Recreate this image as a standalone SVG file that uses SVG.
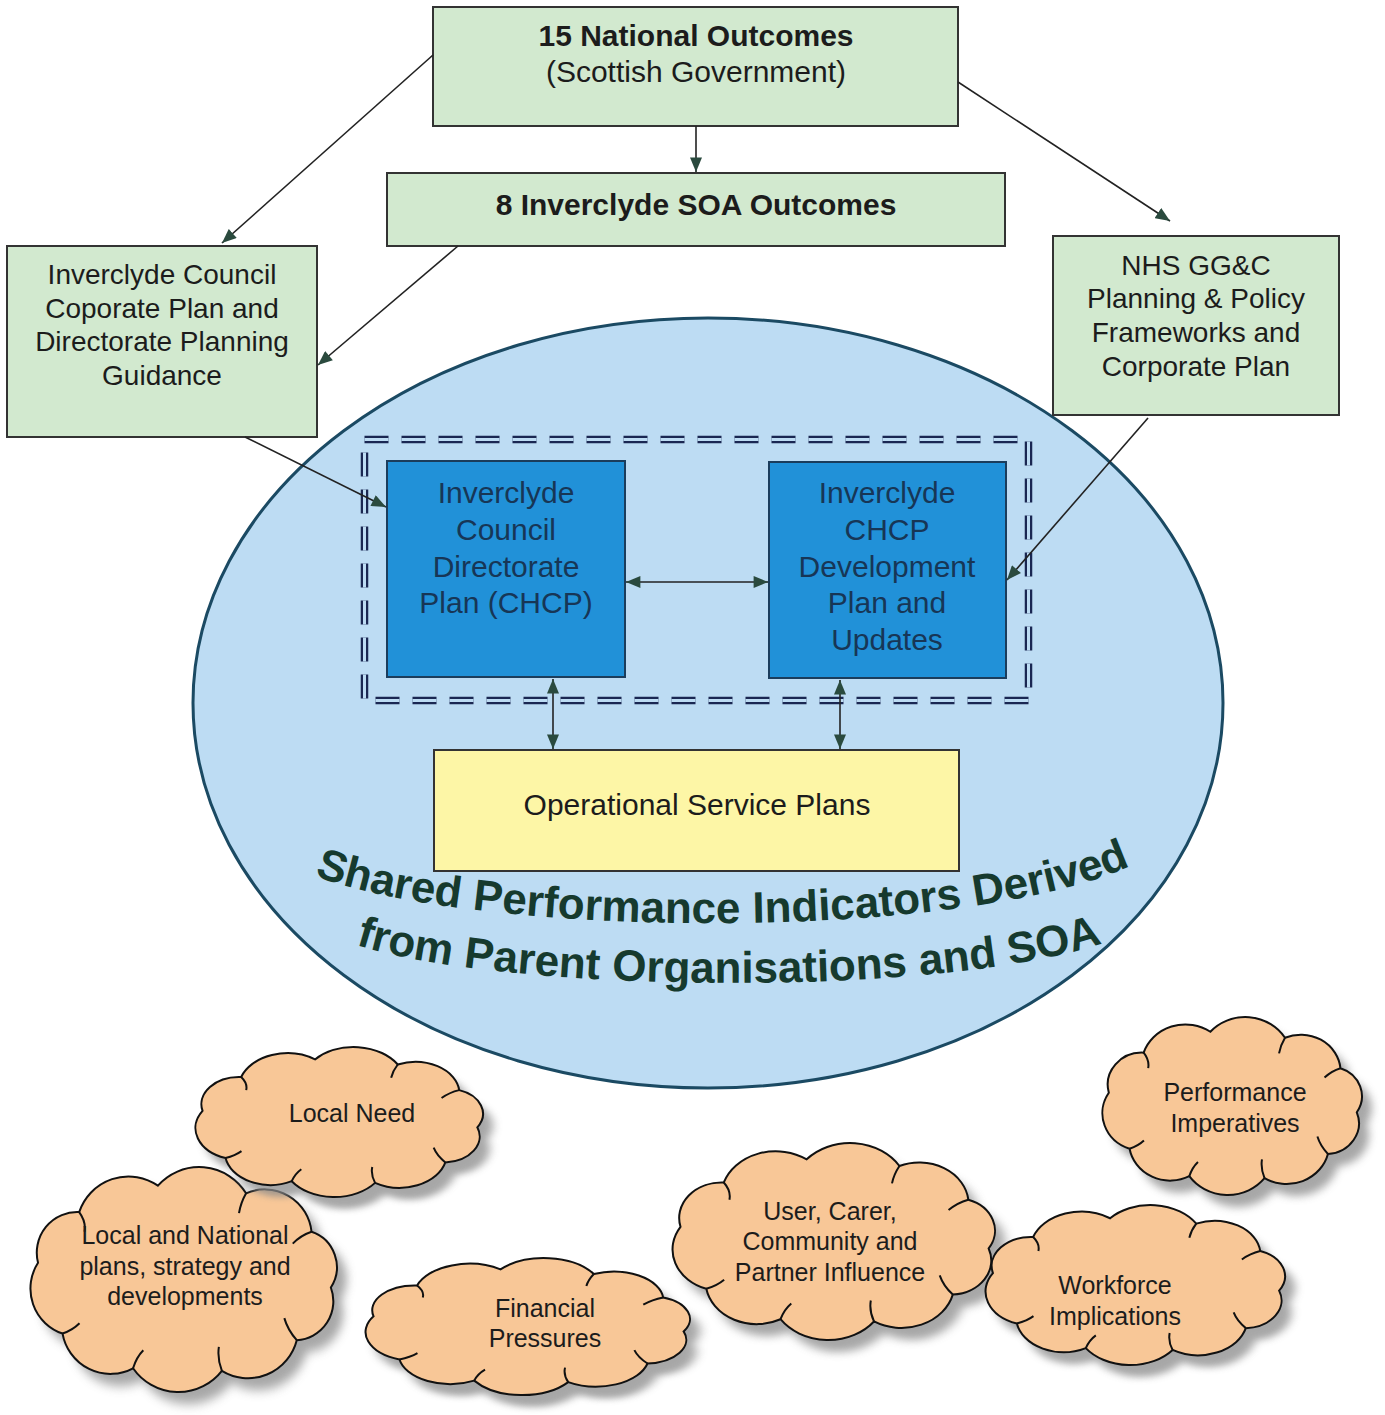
<svg xmlns="http://www.w3.org/2000/svg" width="1385" height="1415" viewBox="0 0 1385 1415">
  <defs>
    <style>
      .t{font-family:"Liberation Sans",Arial,sans-serif;fill:#1c1c1c;text-anchor:middle}
      .b{font-weight:bold}
      .green{fill:#d2e9cf;stroke:#333;stroke-width:2}
      .blue{fill:#2191d8;stroke:#1b3d5c;stroke-width:2}
      .yellow{fill:#fdf6a6;stroke:#333;stroke-width:2}
      .hd{font-size:30px}
      .gt{font-size:28px}
      .bt{font-size:30px;fill:#173656}
      .ct{font-size:25px}
      .cloud{fill:#f8c797;stroke:#111;stroke-width:2}
      .hook{fill:none;stroke:#111;stroke-width:2}
      .shadow{fill:#8a8a8a;opacity:.75}
      .frame-outer{fill:none;stroke:#1a2752;stroke-width:7.5;stroke-dasharray:24 13}
      .frame-inner{fill:none;stroke:#bddcf3;stroke-width:3;stroke-dasharray:24 13}
      .conn line{stroke:#222;stroke-width:1.6;fill:none}
      .one{marker-end:url(#ah)}
      .two{marker-start:url(#ah);marker-end:url(#ah)}
      .arc{font-family:"Liberation Sans",Arial,sans-serif;font-weight:bold;font-size:44px;fill:#163a2e}
    </style>
    <marker id="ah" viewBox="0 0 12 10" refX="12" refY="5" markerWidth="15" markerHeight="12" markerUnits="userSpaceOnUse" orient="auto-start-reverse">
      <path d="M0,0 L12,5 L0,10 z" fill="#2a4a3e"/>
    </marker>
    <filter id="blur" x="-10%" y="-10%" width="120%" height="120%">
      <feGaussianBlur stdDeviation="3"/>
    </filter>
    <!-- cloud outline, drawn in a 200 x 140 box -->
    <path id="cloudShape" vector-effect="non-scaling-stroke" d="M 13.3 60.3 A 24 24 0 0 1 37.8 30.4 A 31 31 0 0 1 84.7 14.8 A 33 33 0 0 1 137.2 19.3 A 28 28 0 0 1 176.2 42 A 22 22 0 0 1 187.7 74.9 A 23 23 0 0 1 167.4 106 A 30 30 0 0 1 122.8 124.1 A 33 33 0 0 1 69.9 122.6 A 29 29 0 0 1 27.9 102.1 A 28 28 0 0 1 13.3 60.3 Z"/>
    <path id="cloudHooks" vector-effect="non-scaling-stroke" d="M 37.8 30.4 Q 42 36 41 42 M 137.2 19.3 Q 134 25 133 31 M 176.2 42 Q 170 44 165 49 M 167.4 106 Q 162 100 160 93 M 122.8 124.1 Q 120 117 121 110 M 69.9 122.6 Q 72 116 76 112 M 27.9 102.1 Q 34 100 38 96"/>
    <path id="arc1" d="M 315 876 C 480 938, 960 943, 1130 866"/>
    <path id="arc2" d="M 350 943 C 500 994, 950 999, 1108 941"/>
  </defs>

  <rect width="1385" height="1415" fill="#ffffff"/>

  <!-- shared performance area -->
  <g id="performance-area">
    <ellipse cx="708" cy="703" rx="515" ry="385" fill="#bddcf3" stroke="#1b4a63" stroke-width="3"/>
    <rect class="frame-outer" x="364.5" y="439.5" width="664" height="261"/>
    <rect class="frame-inner" x="364.5" y="439.5" width="664" height="261"/>
    <text class="arc"><textPath href="#arc1" startOffset="50%" text-anchor="middle">Shared Performance Indicators Derived</textPath></text>
    <text class="arc"><textPath href="#arc2" startOffset="50%" text-anchor="middle">from Parent Organisations and SOA</textPath></text>
  </g>

  <g id="national-outcomes">
    <rect class="green" x="433" y="7" width="525" height="119"/>
    <text class="t hd b" x="696" y="46">15 National Outcomes</text>
    <text class="t hd" x="696" y="82">(Scottish Government)</text>
  </g>

  <g id="soa-outcomes">
    <rect class="green" x="387" y="173" width="618" height="73"/>
    <text class="t hd b" x="696" y="215">8 Inverclyde SOA Outcomes</text>
  </g>

  <g id="council-plan">
    <rect class="green" x="7" y="246" width="310" height="191"/>
    <text class="t gt" x="162" y="284">Inverclyde Council</text>
    <text class="t gt" x="162" y="318">Coporate Plan and</text>
    <text class="t gt" x="162" y="351">Directorate Planning</text>
    <text class="t gt" x="162" y="385">Guidance</text>
  </g>

  <g id="nhs-plan">
    <rect class="green" x="1053" y="236" width="286" height="179"/>
    <text class="t gt" x="1196" y="275">NHS GG&amp;C</text>
    <text class="t gt" x="1196" y="308">Planning &amp; Policy</text>
    <text class="t gt" x="1196" y="342">Frameworks and</text>
    <text class="t gt" x="1196" y="376">Corporate Plan</text>
  </g>

  <g id="directorate-plan">
    <rect class="blue" x="387" y="461" width="238" height="216"/>
    <text class="t bt" x="506" y="503">Inverclyde</text>
    <text class="t bt" x="506" y="540">Council</text>
    <text class="t bt" x="506" y="577">Directorate</text>
    <text class="t bt" x="506" y="613">Plan (CHCP)</text>
  </g>

  <g id="chcp-plan">
    <rect class="blue" x="769" y="462" width="237" height="216"/>
    <text class="t bt" x="887" y="503">Inverclyde</text>
    <text class="t bt" x="887" y="540">CHCP</text>
    <text class="t bt" x="887" y="577">Development</text>
    <text class="t bt" x="887" y="613">Plan and</text>
    <text class="t bt" x="887" y="650">Updates</text>
  </g>

  <g id="service-plans">
    <rect class="yellow" x="434" y="750" width="525" height="121"/>
    <text class="t hd" x="697" y="815">Operational Service Plans</text>
  </g>

  <g id="connectors" class="conn">
    <line class="one" x1="433" y1="55" x2="222" y2="243"/>
    <line class="one" x1="958" y1="82" x2="1170" y2="221"/>
    <line class="one" x1="696" y1="126" x2="696" y2="172"/>
    <line class="one" x1="458" y1="246" x2="318" y2="365"/>
    <line class="one" x1="245" y1="437" x2="386" y2="507"/>
    <line class="one" x1="1148" y1="418" x2="1007" y2="580"/>
    <line class="two" x1="626" y1="582" x2="768" y2="582"/>
    <line class="two" x1="553" y1="679" x2="553" y2="749"/>
    <line class="two" x1="840" y1="680" x2="840" y2="749"/>
  </g>

  <!-- influence clouds -->
  <g id="cloud-local-national">
    <use href="#cloudShape" class="shadow" filter="url(#blur)" transform="translate(25.7,1172.6) scale(1.679,1.694)"/>
    <use href="#cloudShape" class="cloud" transform="translate(15.7,1160.6) scale(1.679,1.694)"/>
    <use href="#cloudHooks" class="hook" transform="translate(15.7,1160.6) scale(1.679,1.694)"/>
    <text class="t ct" x="185" y="1244">Local and National</text>
    <text class="t ct" x="185" y="1275">plans, strategy and</text>
    <text class="t ct" x="185" y="1305">developments</text>
  </g>

  <g id="cloud-local-need">
    <use href="#cloudShape" class="shadow" filter="url(#blur)" transform="translate(191.6,1054.7) scale(1.5755,1.1295)"/>
    <use href="#cloudShape" class="cloud" transform="translate(181.6,1042.7) scale(1.5755,1.1295)"/>
    <use href="#cloudHooks" class="hook" transform="translate(181.6,1042.7) scale(1.5755,1.1295)"/>
    <text class="t ct" x="352" y="1122">Local Need</text>
  </g>

  <g id="cloud-financial">
    <use href="#cloudShape" class="shadow" filter="url(#blur)" transform="translate(359.9,1266.1) scale(1.778,1.032)"/>
    <use href="#cloudShape" class="cloud" transform="translate(349.9,1254.1) scale(1.778,1.032)"/>
    <use href="#cloudHooks" class="hook" transform="translate(349.9,1254.1) scale(1.778,1.032)"/>
    <text class="t ct" x="545" y="1317">Financial</text>
    <text class="t ct" x="545" y="1347">Pressures</text>
  </g>

  <g id="cloud-user-carer">
    <use href="#cloudShape" class="shadow" filter="url(#blur)" transform="translate(667,1149.4) scale(1.767,1.483)"/>
    <use href="#cloudShape" class="cloud" transform="translate(657,1137.4) scale(1.767,1.483)"/>
    <use href="#cloudHooks" class="hook" transform="translate(657,1137.4) scale(1.767,1.483)"/>
    <text class="t ct" x="830" y="1220">User, Carer,</text>
    <text class="t ct" x="830" y="1250">Community and</text>
    <text class="t ct" x="830" y="1281">Partner Influence</text>
  </g>

  <g id="cloud-performance">
    <use href="#cloudShape" class="shadow" filter="url(#blur)" transform="translate(1099.9,1023.9) scale(1.422,1.34)"/>
    <use href="#cloudShape" class="cloud" transform="translate(1089.9,1011.9) scale(1.422,1.34)"/>
    <use href="#cloudHooks" class="hook" transform="translate(1089.9,1011.9) scale(1.422,1.34)"/>
    <text class="t ct" x="1235" y="1101">Performance</text>
    <text class="t ct" x="1235" y="1132">Imperatives</text>
  </g>

  <g id="cloud-workforce">
    <use href="#cloudShape" class="shadow" filter="url(#blur)" transform="translate(981.1,1212.4) scale(1.641,1.205)"/>
    <use href="#cloudShape" class="cloud" transform="translate(971.1,1200.4) scale(1.641,1.205)"/>
    <use href="#cloudHooks" class="hook" transform="translate(971.1,1200.4) scale(1.641,1.205)"/>
    <text class="t ct" x="1115" y="1294">Workforce</text>
    <text class="t ct" x="1115" y="1325">Implications</text>
  </g>
</svg>
